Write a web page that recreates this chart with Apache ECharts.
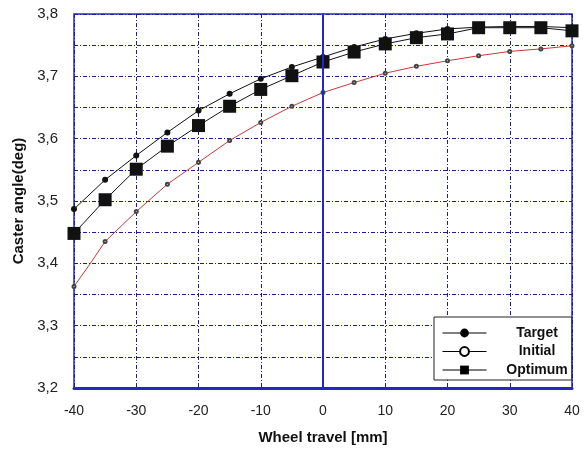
<!DOCTYPE html>
<html><head><meta charset="utf-8">
<script src="https://cdn.jsdelivr.net/npm/echarts@6/dist/echarts.min.js"></script>
<style>html,body{margin:0;padding:0;background:#fff}#c{width:585px;height:450px}</style>
</head><body><div id="c"></div>
<script>
const travel = [-40,-35,-30,-25,-20,-15,-10,-5,0,5,10,15,20,25,30,35,40];
const target = [3.487,3.534,3.573,3.610,3.645,3.672,3.696,3.715,3.731,3.747,3.760,3.769,3.776,3.779,3.780,3.780,3.778];
const optimum = [3.448,3.502,3.551,3.588,3.621,3.652,3.679,3.701,3.723,3.739,3.752,3.762,3.768,3.778,3.778,3.778,3.773];
const initialX = [-40,-37.5,-35,-30,-25,-20,-15,-10,-5,0,5,10,15,20,25,30,35,40];
const initial = [3.363,3.398,3.435,3.483,3.527,3.562,3.597,3.626,3.652,3.674,3.690,3.705,3.716,3.725,3.733,3.740,3.744,3.749];
const yTicks = ['3,2','3,3','3,4','3,5','3,6','3,7','3,8'];

const blue = '#2626c8';
const gridBlue = '#1c1c9a';
const font = 'Liberation Sans, Arial, sans-serif';
const chart = echarts.init(document.getElementById('c'));
chart.setOption({
  animation: false,
  grid: {left: 74, right: 13, top: 14, bottom: 60, show: true, borderColor: blue, borderWidth: 1.5},
  xAxis: {
    type: 'value', min: -40, max: 40, interval: 10,
    name: 'Wheel travel [mm]', nameLocation: 'middle', nameGap: 42,
    nameTextStyle: {fontFamily: font, fontWeight: 'bold', fontSize: 15, color: '#111'},
    axisLine: {onZero: false, lineStyle: {color: blue, width: 3}},
    axisTick: {show: false},
    axisLabel: {fontFamily: font, fontSize: 14, color: '#222', margin: 16},
    splitLine: {show: true, lineStyle: {color: gridBlue, width: 1, type: [4,2,1,2]}}
  },
  yAxis: {
    type: 'value', min: 3.2, max: 3.8, interval: 0.05,
    name: 'Caster angle(deg)', nameLocation: 'middle', nameGap: 48,
    nameTextStyle: {fontFamily: font, fontWeight: 'bold', fontSize: 15, color: '#111'},
    axisLine: {lineStyle: {color: blue, width: 2}},
    axisTick: {show: false},
    axisLabel: {fontFamily: font, fontSize: 15, color: '#222', margin: 16,
      formatter: v => { const k = Math.round(v*100); return k % 10 === 0 ? yTicks[Math.round((k-320)/10)] : ''; }},
    splitLine: {show: true, lineStyle: {color: gridBlue, width: 1, type: [4,2,1,2]}}
  },
  legend: {
    orient: 'vertical', left: 434, top: 317,
    backgroundColor: '#fff', borderColor: '#222', borderWidth: 1,
    padding: [9, 4, 3, 8], itemGap: 4.5, itemWidth: 44, itemHeight: 11,
    textStyle: {fontFamily: font, fontWeight: 'bold', fontSize: 14, color: '#111',
      rich: {n: {width: 91, align: 'center', fontFamily: font, fontWeight: 'bold', fontSize: 14, color: '#111'}}},
    formatter: n => '{n|' + n + '}',
    data: [
      {name: 'Target', itemStyle: {color: '#000'}, lineStyle: {color: '#000', width: 1, type: 'solid'}},
      {name: 'Initial', itemStyle: {color: '#000'}, lineStyle: {color: '#000', width: 1, type: 'solid'}},
      {name: 'Optimum', itemStyle: {color: '#000'}, lineStyle: {color: '#000', width: 1, type: 'solid'}}
    ]
  },
  series: [
    {name: 'Target', type: 'line', data: travel.map((x,i)=>[x, target[i]]),
      symbol: 'circle', symbolSize: 6, lineStyle: {color: '#111', width: 1}, itemStyle: {color: '#111'}},
    {name: 'Initial', type: 'line', data: initialX.map((x,i)=>[x, initial[i]]),
      symbol: 'emptyCircle', symbolSize: (v, p) => p.dataIndex === 1 ? 0 : 3,
      lineStyle: {color: '#c83838', width: 1, type: 'solid'}, itemStyle: {color: '#444', borderColor: '#444', borderWidth: 1},
      markLine: {silent: true, symbol: 'none', label: {show: false},
        lineStyle: {color: blue, width: 2, type: 'solid'}, data: [{xAxis: 0}]}},
    {name: 'Optimum', type: 'line', data: travel.map((x,i)=>[x, optimum[i]]),
      symbol: 'rect', symbolSize: 13, lineStyle: {color: '#111', width: 1}, itemStyle: {color: '#111'}}
  ]
});
</script></body></html>
